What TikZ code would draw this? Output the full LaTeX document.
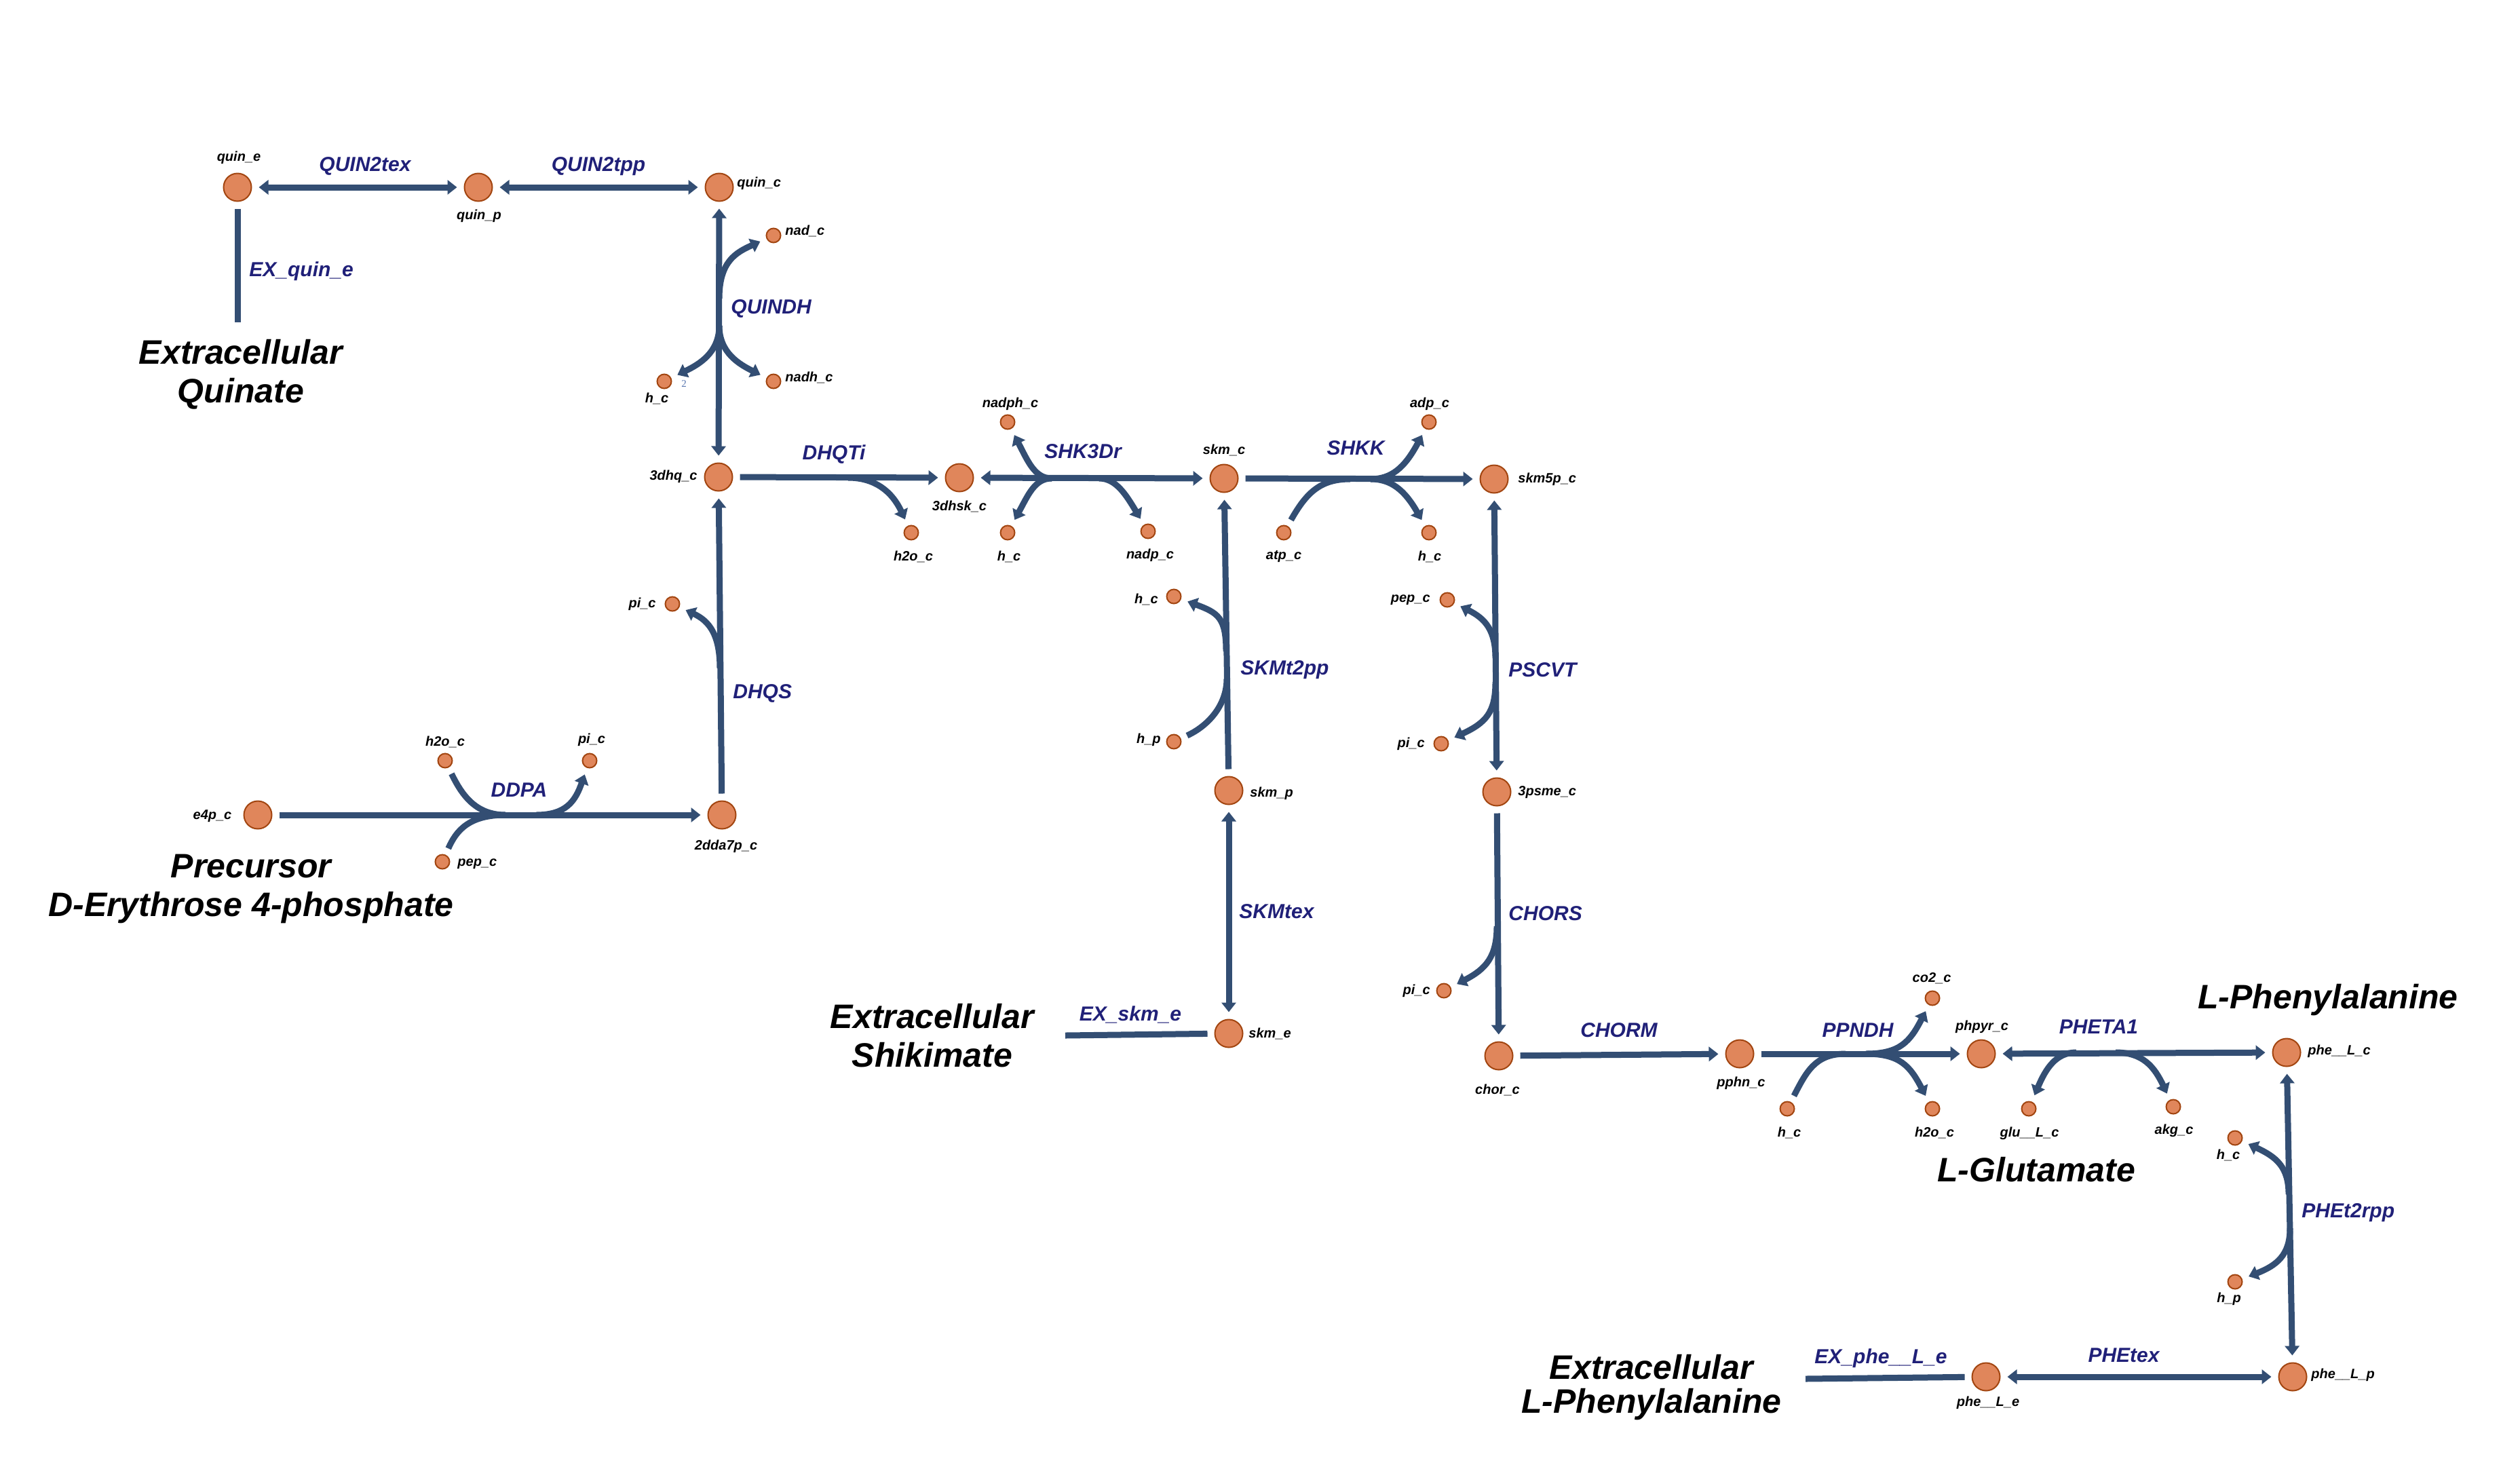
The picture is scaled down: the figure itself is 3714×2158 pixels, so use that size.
\documentclass[tikz,border=0pt]{standalone}
\usepackage{fontspec}
\setmainfont{Liberation Sans}
\newfontfamily\stoichfont{Liberation Serif}
\usetikzlibrary{arrows.meta}
\definecolor{segcol}{HTML}{334E73}
\definecolor{rxncol}{HTML}{202078}
\definecolor{metfill}{HTML}{E0865B}
\definecolor{metstroke}{HTML}{A24510}
\definecolor{stoichcol}{HTML}{5A78B0}
\tikzset{
  bigmet/.style={circle, draw=metstroke, fill=metfill, line width=1pt, minimum size=20.5pt, inner sep=0pt},
  smallmet/.style={bigmet, minimum size=10.5pt},
  metlabel/.style={font=\fontsize{10pt}{12pt}\selectfont\bfseries\itshape, text=black, inner sep=0pt},
  rxnlabel/.style={font=\fontsize{15pt}{18pt}\selectfont\bfseries\itshape, text=rxncol, inner sep=0pt},
  titlelabel/.style={font=\fontsize{25pt}{28.5pt}\selectfont\bfseries\itshape, text=black, align=center, inner sep=0pt},
  stoichlabel/.style={font=\fontsize{7.5pt}{9pt}\stoichfont, text=stoichcol, inner sep=0pt},
  rxnseg/.style={draw=segcol, line width=4.5pt, shorten <=5pt, shorten >=5pt},
  branchout/.style={rxnseg, shorten <=0pt},
  branchin/.style={rxnseg, shorten >=0pt}
}
\begin{document}
\begin{tikzpicture}[x=0.5pt,y=-0.5pt,>={Triangle[width=10.5pt,length=7pt]}]
\useasboundingbox (0,0) rectangle (3714,2158);

% ---------------- metabolites ----------------
\node[bigmet] (quine) at (350,276) {};
\node[bigmet] (quinp) at (705,276) {};
\node[bigmet] (quinc) at (1060,276) {};
\node[smallmet] (nadc) at (1140,347) {};
\node[smallmet] (hcA) at (979,562) {};
\node[smallmet] (nadhc) at (1140,562) {};
\node[bigmet] (dhq) at (1059,703) {};
\node[bigmet] (dhsk) at (1414,704) {};
\node[smallmet] (h2oA) at (1343,785) {};
\node[smallmet] (nadphc) at (1485,622) {};
\node[smallmet] (hcB) at (1485,785) {};
\node[smallmet] (nadpc) at (1692,783) {};
\node[bigmet] (skmc) at (1804,705) {};
\node[smallmet] (atpc) at (1892,785) {};
\node[smallmet] (adpc) at (2106,622) {};
\node[smallmet] (hcC) at (2106,785) {};
\node[bigmet] (skm5p) at (2202,706) {};
\node[smallmet] (pepB) at (2133,884) {};
\node[smallmet] (piB) at (2124,1096) {};
\node[bigmet] (psme) at (2206,1167) {};
\node[smallmet] (piC) at (2128,1460) {};
\node[bigmet] (chor) at (2209,1556) {};
\node[bigmet] (pphn) at (2564,1553) {};
\node[smallmet] (hcD) at (2634,1634) {};
\node[smallmet] (co2) at (2848,1471) {};
\node[smallmet] (h2oB) at (2848,1634) {};
\node[bigmet] (phpyr) at (2920,1553) {};
\node[smallmet] (glu) at (2990,1634) {};
\node[smallmet] (akg) at (3203,1631) {};
\node[bigmet] (phec) at (3370,1551) {};
\node[smallmet] (hcE) at (3294,1677) {};
\node[smallmet] (hpB) at (3294,1889) {};
\node[bigmet] (phep) at (3379,2029) {};
\node[bigmet] (phee) at (2927,2029) {};
\node[bigmet] (skmp) at (1811,1165) {};
\node[smallmet] (hcF) at (1730,879) {};
\node[smallmet] (hpA) at (1730,1093) {};
\node[bigmet] (skme) at (1811,1523) {};
\node[smallmet] (piA) at (991,890) {};
\node[bigmet] (ddap) at (1064,1201) {};
\node[bigmet] (e4p) at (380,1201) {};
\node[smallmet] (h2oC) at (656,1121) {};
\node[smallmet] (piD) at (869,1121) {};
\node[smallmet] (pepC) at (652,1270) {};

% ---------------- reactions ----------------
% QUIN2tex, QUIN2tpp, EX_quin_e
\draw[rxnseg,<->] (quine) -- (quinp);
\draw[rxnseg,<->] (quinp) -- (quinc);
\coordinate (exQuin) at (350,475);
\draw[rxnseg,shorten >=0pt] (quine) -- (exQuin);

% QUINDH
\draw[rxnseg,<->] (quinc) -- (dhq);
\coordinate (qA) at (1060,440);
\coordinate (qB) at (1060,480);
\draw[branchout,->] (qA) .. controls (1060,385) and (1085,372) .. (nadc);
\draw[branchout,->] (qB) .. controls (1060,520) and (1030,537) .. (hcA);
\draw[branchout,->] (qB) .. controls (1060,520) and (1090,537) .. (nadhc);

% DHQTi
\draw[rxnseg,->] (dhq) -- (dhsk);
\coordinate (tA) at (1250,704);
\draw[branchout,->] (tA) .. controls (1290,704) and (1315,725) .. (h2oA);

% SHK3Dr
\draw[rxnseg,<->] (dhsk) -- (skmc);
\coordinate (sA) at (1550,705);
\coordinate (sB) at (1620,705);
\draw[branchout,->] (sA) .. controls (1525,705) and (1515,680) .. (nadphc);
\draw[branchout,->] (sA) .. controls (1525,705) and (1515,730) .. (hcB);
\draw[branchout,->] (sB) .. controls (1645,705) and (1660,730) .. (nadpc);

% SHKK
\draw[rxnseg,->] (skmc) -- (skm5p);
\coordinate (kA) at (1990,706);
\coordinate (kB) at (2020,706);
\draw[branchin] (atpc) .. controls (1925,727) and (1945,706) .. (kA);
\draw[branchout,->] (kB) .. controls (2050,706) and (2070,690) .. (adpc);
\draw[branchout,->] (kB) .. controls (2050,706) and (2070,722) .. (hcC);

% SKMt2pp
\draw[rxnseg,->] (skmp) -- (skmc);
\coordinate (mA) at (1808,1000);
\coordinate (mB) at (1807,960);
\draw[branchin] (hpA) .. controls (1780,1070) and (1808,1040) .. (mA);
\draw[branchout,->] (mB) .. controls (1807,910) and (1795,903) .. (hcF);

% SKMtex, EX_skm_e
\draw[rxnseg,<->] (skmp) -- (skme);
\coordinate (exSkm) at (1570,1526);
\draw[rxnseg,shorten <=0pt] (exSkm) -- (skme);

% DHQS
\draw[rxnseg,->] (ddap) -- (dhq);
\coordinate (hA) at (1061,985);
\draw[branchout,->] (hA) .. controls (1061,935) and (1045,915) .. (piA);

% DDPA
\draw[rxnseg,->] (e4p) -- (ddap);
\coordinate (dA) at (745,1201);
\coordinate (dB) at (790,1201);
\draw[branchin] (h2oC) .. controls (680,1170) and (700,1201) .. (dA);
\draw[branchin] (pepC) .. controls (672,1225) and (690,1201) .. (dA);
\draw[branchout,->] (dB) .. controls (835,1201) and (848,1180) .. (piD);

% PSCVT
\draw[rxnseg,<->] (skm5p) -- (psme);
\coordinate (pA) at (2204,970);
\coordinate (pB) at (2204,1005);
\draw[branchout,->] (pA) .. controls (2204,930) and (2190,912) .. (pepB);
\draw[branchout,->] (pB) .. controls (2204,1050) and (2190,1065) .. (piB);

% CHORS
\draw[rxnseg,->] (psme) -- (chor);
\coordinate (cA) at (2206,1365);
\draw[branchout,->] (cA) .. controls (2206,1410) and (2190,1428) .. (piC);

% CHORM
\draw[rxnseg,->] (chor) -- (pphn);

% PPNDH
\draw[rxnseg,->] (pphn) -- (phpyr);
\coordinate (nA) at (2720,1553);
\coordinate (nB) at (2750,1553);
\draw[branchin] (hcD) .. controls (2662,1580) and (2675,1553) .. (nA);
\draw[branchout,->] (nB) .. controls (2800,1553) and (2815,1535) .. (co2);
\draw[branchout,->] (nB) .. controls (2800,1553) and (2815,1571) .. (h2oB);

% PHETA1
\draw[rxnseg,<->] (phpyr) -- (phec);
\coordinate (aA) at (3060,1551);
\coordinate (aB) at (3118,1551);
\draw[branchout,->] (aA) .. controls (3030,1551) and (3015,1575) .. (glu);
\draw[branchout,->] (aB) .. controls (3158,1551) and (3175,1572) .. (akg);

% PHEt2rpp
\draw[rxnseg,<->] (phep) -- (phec);
\coordinate (eA) at (3373,1760);
\coordinate (eB) at (3375,1810);
\draw[branchout,->] (eA) .. controls (3373,1720) and (3355,1705) .. (hcE);
\draw[branchout,->] (eB) .. controls (3375,1850) and (3355,1865) .. (hpB);

% PHEtex, EX_phe__L_e
\draw[rxnseg,<->] (phee) -- (phep);
\coordinate (exPhe) at (2661,2032);
\draw[rxnseg,shorten <=0pt] (exPhe) -- (phee);

% ---------------- metabolite labels ----------------
\node[metlabel] (quineL) at (352,232) {quin\_e};
\node[metlabel] (quinpL) at (706,318) {quin\_p};
\node[metlabel,anchor=west] (quincL) at (1086,270) {quin\_c};
\node[metlabel,anchor=west] (nadcL) at (1157,340) {nad\_c};
\node[metlabel] (hcAL) at (968,587) {h\_c};
\node[stoichlabel] (hcAS) at (1008,566) {2};
\node[metlabel,anchor=west] (nadhcL) at (1157,556) {nadh\_c};
\node[metlabel,anchor=east] (dhqL) at (1028,702) {3dhq\_c};
\node[metlabel] (dhskL) at (1414,746) {3dhsk\_c};
\node[metlabel] (h2oAL) at (1346,820) {h2o\_c};
\node[metlabel] (nadphcL) at (1489,595) {nadph\_c};
\node[metlabel] (hcBL) at (1487,820) {h\_c};
\node[metlabel] (nadpcL) at (1695,818) {nadp\_c};
\node[metlabel] (skmcL) at (1804,663) {skm\_c};
\node[metlabel] (atpcL) at (1892,820) {atp\_c};
\node[metlabel] (adpcL) at (2107,595) {adp\_c};
\node[metlabel] (hcCL) at (2107,820) {h\_c};
\node[metlabel,anchor=west] (skm5pL) at (2237,706) {skm5p\_c};
\node[metlabel,anchor=east] (pepBL) at (2108,884) {pep\_c};
\node[metlabel,anchor=east] (piBL) at (2100,1096) {pi\_c};
\node[metlabel,anchor=west] (psmeL) at (2237,1168) {3psme\_c};
\node[metlabel,anchor=east] (piCL) at (2108,1460) {pi\_c};
\node[metlabel] (chorL) at (2207,1606) {chor\_c};
\node[metlabel] (pphnL) at (2566,1596) {pphn\_c};
\node[metlabel] (hcDL) at (2637,1669) {h\_c};
\node[metlabel] (co2L) at (2847,1442) {co2\_c};
\node[metlabel] (h2oBL) at (2851,1669) {h2o\_c};
\node[metlabel] (phpyrL) at (2921,1513) {phpyr\_c};
\node[metlabel] (gluL) at (2991,1670) {glu\_\_L\_c};
\node[metlabel] (akgL) at (3204,1666) {akg\_c};
\node[metlabel,anchor=west] (phecL) at (3401,1549) {phe\_\_L\_c};
\node[metlabel] (hcEL) at (3284,1702) {h\_c};
\node[metlabel] (hpBL) at (3285,1914) {h\_p};
\node[metlabel,anchor=west] (phepL) at (3406,2026) {phe\_\_L\_p};
\node[metlabel] (pheeL) at (2930,2067) {phe\_\_L\_e};
\node[metlabel,anchor=west] (skmpL) at (1842,1169) {skm\_p};
\node[metlabel,anchor=east] (hcFL) at (1707,883) {h\_c};
\node[metlabel,anchor=east] (hpAL) at (1711,1090) {h\_p};
\node[metlabel,anchor=west] (skmeL) at (1840,1523) {skm\_e};
\node[metlabel,anchor=east] (piAL) at (967,890) {pi\_c};
\node[metlabel] (ddapL) at (1070,1247) {2dda7p\_c};
\node[metlabel] (e4pL) at (313,1203) {e4p\_c};
\node[metlabel] (h2oCL) at (656,1093) {h2o\_c};
\node[metlabel] (piDL) at (872,1090) {pi\_c};
\node[metlabel,anchor=west] (pepCL) at (674,1273) {pep\_c};

% ---------------- reaction labels ----------------
\node[rxnlabel] (lQUIN2tex) at (538,245) {QUIN2tex};
\node[rxnlabel] (lQUIN2tpp) at (882,245) {QUIN2tpp};
\node[rxnlabel,anchor=west] (lEXquin) at (367,400) {EX\_quin\_e};
\node[rxnlabel,anchor=west] (lQUINDH) at (1077,455) {QUINDH};
\node[rxnlabel] (lDHQTi) at (1229,670) {DHQTi};
\node[rxnlabel] (lSHK3Dr) at (1596,665) {SHK3Dr};
\node[rxnlabel] (lSHKK) at (1998,660) {SHKK};
\node[rxnlabel,anchor=west] (lSKMt2pp) at (1828,987) {SKMt2pp};
\node[rxnlabel,anchor=west] (lSKMtex) at (1826,1343) {SKMtex};
\node[rxnlabel] (lEXskm) at (1666,1495) {EX\_skm\_e};
\node[rxnlabel,anchor=west] (lPSCVT) at (2223,987) {PSCVT};
\node[rxnlabel,anchor=west] (lCHORS) at (2223,1346) {CHORS};
\node[rxnlabel] (lCHORM) at (2386,1518) {CHORM};
\node[rxnlabel] (lPPNDH) at (2738,1518) {PPNDH};
\node[rxnlabel] (lPHETA1) at (3093,1513) {PHETA1};
\node[rxnlabel,anchor=west] (lPHEt2rpp) at (3392,1787) {PHEt2rpp};
\node[rxnlabel] (lPHEtex) at (3130,1997) {PHEtex};
\node[rxnlabel] (lEXphe) at (2772,2002) {EX\_phe\_\_L\_e};
\node[rxnlabel,anchor=west] (lDHQS) at (1080,1022) {DHQS};
\node[rxnlabel] (lDDPA) at (765,1164) {DDPA};

% ---------------- titles ----------------
\node[titlelabel] (tQuin) at (355,552) {Extracellular\\Quinate};
\node[titlelabel] (tPrec) at (370,1310) {Precursor\\D-Erythrose 4-phosphate};
\node[titlelabel] (tShik) at (1374,1526) {Extracellular\\Shikimate};
\node[titlelabel] (tPheL) at (3431,1474) {L-Phenylalanine};
\node[titlelabel] (tGlu) at (3001,1724) {L-Glutamate};
\node[titlelabel, font=\fontsize{25pt}{25pt}\selectfont\bfseries\itshape] (tPheE) at (2434,2045) {Extracellular\\L-Phenylalanine};
\end{tikzpicture}
\end{document}
